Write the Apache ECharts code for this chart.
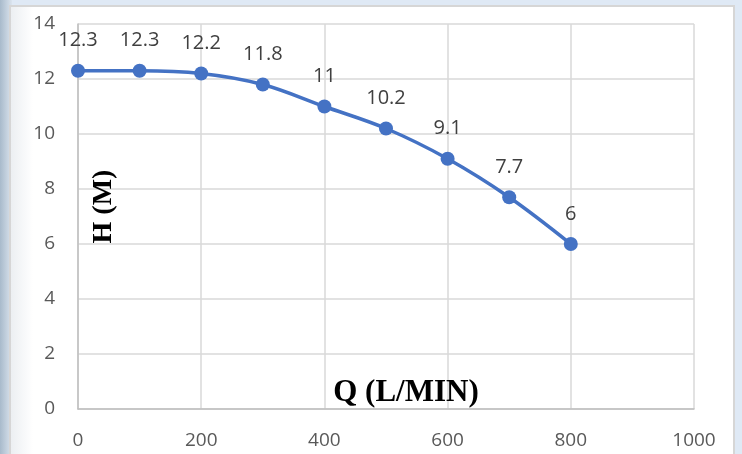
<!DOCTYPE html>
<html>
<head>
<meta charset="utf-8">
<script src="https://cdn.jsdelivr.net/npm/echarts@6/dist/echarts.min.js"></script>
<style>html,body{margin:0;padding:0;background:#dfe9f5;}#c{width:742px;height:454px;}</style>
</head>
<body>
<div id="c"></div>
<script>
const flowQ = [0, 100, 200, 300, 400, 500, 600, 700, 800];
const headH = [12.3, 12.3, 12.2, 11.8, 11, 10.2, 9.1, 7.7, 6];
const xTitle = 'Q (L/MIN)';
const yTitle = 'H (M)';

const chart = echarts.init(document.getElementById('c'));
chart.setOption({
  animation: false,
  backgroundColor: '#dfe9f5',
  graphic: [
    {type:'rect', z:-100, silent:true, shape:{x:0,y:0,width:12,height:454},
     style:{fill:new echarts.graphic.LinearGradient(0,0,1,0,[{offset:0,color:'#a8bacb'},{offset:1,color:'#dbe4ee'}])}},
    {type:'rect', z:-99, silent:true, shape:{x:10,y:6,width:724,height:460},
     style:{fill:'#ffffff', stroke:'#d6d6d6', lineWidth:2}},
    {type:'rect', z:-98, silent:true, shape:{x:11,y:7,width:22,height:447},
     style:{fill:new echarts.graphic.LinearGradient(0,0,1,0,[{offset:0,color:'#eceff2'},{offset:1,color:'#ffffff'}])}}
  ],
  grid: {left:78, right:48, top:24, bottom:45, containLabel:false, outerBoundsMode:'none'},
  xAxis: {
    type:'value', min:0, max:1000, interval:200,
    name: xTitle, nameLocation:'middle', nameGap:-16, nameMoveOverlap:false,
    nameTextStyle:{fontFamily:'Liberation Serif', fontWeight:'bold', fontSize:31, color:'#000', verticalAlign:'middle', padding:[0,0,0,40]},
    axisLine:{show:true, lineStyle:{color:'#bfbfbf', width:1.5}},
    axisTick:{show:false},
    axisLabel:{margin:22, fontFamily:'Open Sans', fontSize:19, color:'#595959', formatter: v => String(v)},
    splitLine:{show:true, lineStyle:{color:'#d9d9d9', width:1.5}}
  },
  yAxis: {
    type:'value', min:0, max:14, interval:2,
    name: yTitle, nameLocation:'middle', nameGap:-26, nameRotate:90, nameMoveOverlap:false,
    nameTextStyle:{fontFamily:'Liberation Serif', fontWeight:'bold', fontSize:28, color:'#000', verticalAlign:'middle', padding:[0,0,0,20]},
    axisLine:{show:true, lineStyle:{color:'#bfbfbf', width:1.5}},
    axisTick:{show:false},
    axisLabel:{margin:23, fontFamily:'Open Sans', fontSize:19, color:'#595959'},
    splitLine:{show:true, lineStyle:{color:'#d9d9d9', width:1.5}}
  },
  series: [{
    type:'line',
    data: flowQ.map((q,i)=>[q, headH[i]]),
    smooth:0.35,
    symbol:'circle', symbolSize:14,
    lineStyle:{color:'#4472c4', width:3.5},
    itemStyle:{color:'#4472c4'},
    label:{show:true, position:'top', distance:13, fontFamily:'Open Sans', fontSize:20, color:'#404040',
      formatter: p => String(p.value[1])}
  }]
});
</script>
</body>
</html>
